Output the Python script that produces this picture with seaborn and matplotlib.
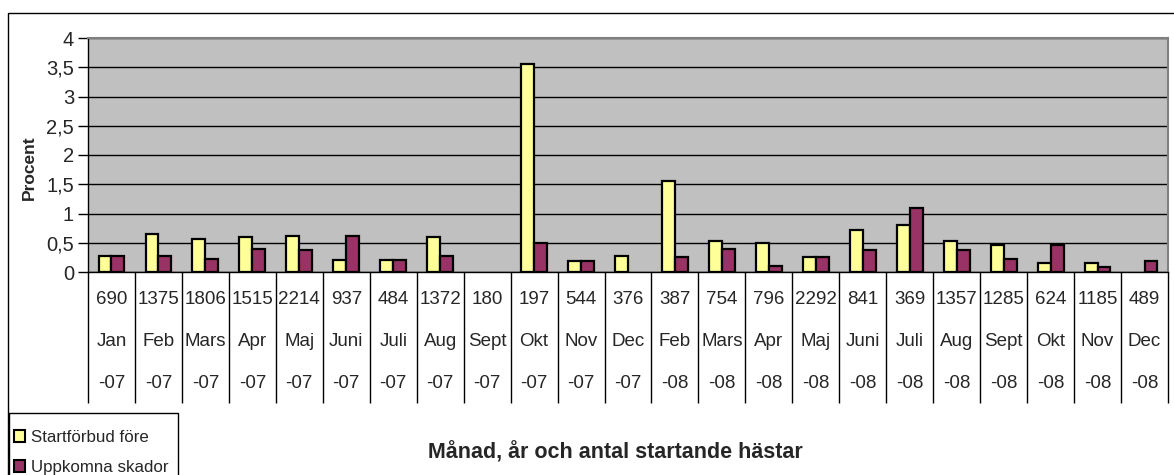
import matplotlib
matplotlib.use("Agg")
import matplotlib.pyplot as plt
from matplotlib.patches import Patch, Rectangle
from matplotlib.ticker import FuncFormatter, MultipleLocator
import pandas as pd
import seaborn as sns

counts = ['690', '1375', '1806', '1515', '2214', '937', '484', '1372', '180', '197', '544', '376',
          '387', '754', '796', '2292', '841', '369', '1357', '1285', '624', '1185', '489']
months = ['Jan', 'Feb', 'Mars', 'Apr', 'Maj', 'Juni', 'Juli', 'Aug', 'Sept', 'Okt', 'Nov', 'Dec',
          'Feb', 'Mars', 'Apr', 'Maj', 'Juni', 'Juli', 'Aug', 'Sept', 'Okt', 'Nov', 'Dec']
years = ['-07'] * 12 + ['-08'] * 11
startforbud = [0.27, 0.65, 0.56, 0.59, 0.62, 0.21, 0.21, 0.59, 0.0, 3.56, 0.18, 0.27,
               1.55, 0.53, 0.50, 0.25, 0.71, 0.81, 0.53, 0.46, 0.15, 0.15, 0.0]
skador = [0.27, 0.27, 0.22, 0.40, 0.37, 0.62, 0.21, 0.27, 0.0, 0.50, 0.18, 0.0,
          0.25, 0.40, 0.11, 0.25, 0.37, 1.09, 0.37, 0.22, 0.46, 0.09, 0.19]
series = ['Startförbud före', 'Uppkomna skador']
colors = ['#FFFF99', '#993366']

keys = [f'{m}{y}' for m, y in zip(months, years)]
df = pd.DataFrame({
    'key': keys * 2,
    'serie': [series[0]] * len(keys) + [series[1]] * len(keys),
    'procent': startforbud + skador,
})

sns.set_style('white')
plt.rcParams['font.family'] = ['Liberation Sans', 'DejaVu Sans']

W, H = 1174, 475
fig = plt.figure(figsize=(W / 100, H / 100), dpi=100)
ax = fig.add_axes([88 / W, 1 - 272 / H, (1168 - 88) / W, (272 - 38) / H])
ax.set_facecolor('#C0C0C0')

sns.barplot(data=df, x='key', y='procent', hue='serie', order=keys, hue_order=series,
            palette=colors, saturation=1, width=0.55, edgecolor='black', linewidth=1.6,
            legend=False, ax=ax, zorder=3)
# no visible bar where the value is zero
for p in ax.patches:
    if p.get_height() == 0:
        p.set_visible(False)

ax.set_xlim(-0.5, len(keys) - 0.5)
ax.set_ylim(0, 4)
ax.yaxis.set_major_locator(MultipleLocator(0.5))
ax.yaxis.set_major_formatter(FuncFormatter(lambda v, p: f'{v:g}'.replace('.', ',')))
ax.grid(axis='y', color='black', linewidth=1)
ax.set_axisbelow(True)
ax.tick_params(axis='y', left=True, length=7, width=1, color='black', labelsize=14.5, pad=3)
ax.set_xticks([])
ax.set_xlabel('')
ax.set_ylabel('Procent', fontsize=12.5, fontweight='bold')
ax.yaxis.set_label_coords(-0.047, 0.444)

for s in ['top', 'right']:
    ax.spines[s].set_color('#808080')
    ax.spines[s].set_linewidth(1.5)
for s in ['left', 'bottom']:
    ax.spines[s].set_color('black')
    ax.spines[s].set_linewidth(1)

# table below the axis
tr = ax.get_xaxis_transform()
ph = 272 - 38
ax.vlines([i - 0.5 for i in range(len(keys) + 1)], 0, -(403 - 272) / ph,
          transform=tr, colors='black', linewidth=1, clip_on=False)
for i in range(len(keys)):
    for row, txt in zip([300, 342, 384], [counts[i], months[i], years[i]]):
        ax.text(i, -(row - 272) / ph, txt, transform=tr, ha='center', va='center',
                fontsize=13.5, clip_on=False)

fig.text(615 / W, 1 - 453 / H, 'Månad, år och antal startande hästar',
         ha='center', va='center', fontsize=15.5, fontweight='bold')

# legend: box drawn separately, it runs off the bottom edge like in the original
handles = [Patch(facecolor=c, edgecolor='black', linewidth=1.5) for c in colors]
leg = fig.legend(handles, series, loc='upper left', bbox_to_anchor=(6 / W, 1 - 422 / H),
                 frameon=False, fontsize=12.2,
                 handlelength=0.7, handleheight=0.7, handletextpad=0.3,
                 borderpad=0.45, labelspacing=0.88, borderaxespad=0)
fig.patches.append(Rectangle((9 / W, -0.1), (178 - 9) / W, 1 - 413 / H + 0.1,
                             transform=fig.transFigure, fill=False, edgecolor='black', linewidth=1))

fig.patches.append(Rectangle((8 / W, -0.1), 2, 1 - 13 / H + 0.1, transform=fig.transFigure,
                             fill=False, edgecolor='black', linewidth=1))

fig.savefig('out.png', dpi=100)
